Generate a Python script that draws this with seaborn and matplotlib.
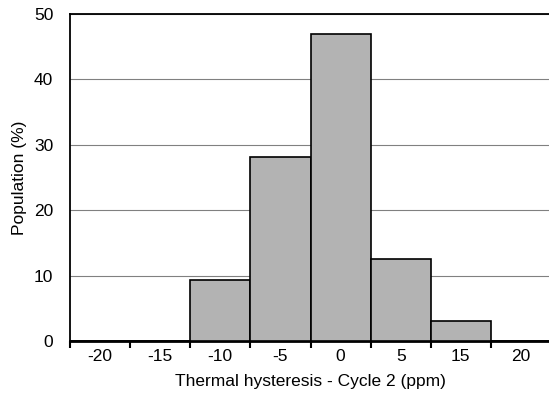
import matplotlib
matplotlib.use("Agg")
from matplotlib import pyplot as plt
from matplotlib.ticker import FixedLocator
import pandas as pd
import seaborn as sns

# histogram bins (ppm) and share of population (%)
bins = ["-20", "-15", "-10", "-5", "0", "5", "15", "20"]
population = [0, 0, 9.375, 28.125, 46.875, 12.5, 3.125, 0]
y_ticks = [0, 10, 20, 30, 40, 50]

df = pd.DataFrame({"bin": bins, "population": population})

sns.set_theme(style="white")
plt.rcParams["font.family"] = ["Liberation Sans", "DejaVu Sans"]
fs = 12.5

fig = plt.figure(figsize=(5.49, 3.96), dpi=100)
ax = fig.add_axes([70 / 549, 1 - 341 / 396, 481 / 549, 327 / 396])

sns.barplot(data=df, x="bin", y="population", order=bins, width=1.0,
            color="#b3b3b3", saturation=1, edgecolor="black", linewidth=1.2,
            ax=ax, zorder=3)

ax.set_xlim(-0.5, len(bins) - 0.5)
ax.set_ylim(0, 50)
ax.set_yticks(y_ticks)
ax.yaxis.grid(True, color="#808080", linewidth=0.8, zorder=0)
ax.set_axisbelow(True)

# category boundaries as tick marks, labels centered in between
ax.xaxis.set_minor_locator(FixedLocator([i - 0.5 for i in range(len(bins) + 1)]))
ax.tick_params(axis="x", which="major", length=0, pad=6, labelsize=fs,
               colors="black")
ax.tick_params(axis="x", which="minor", bottom=True, length=5, width=1.5,
               direction="out", color="black")
ax.tick_params(axis="y", length=0, pad=12, labelsize=fs, colors="black")

for side in ["left", "top"]:
    ax.spines[side].set_color("black")
    ax.spines[side].set_linewidth(1.3)
ax.spines["bottom"].set_color("black")
ax.spines["bottom"].set_linewidth(2.0)
ax.spines["right"].set_visible(False)

ax.set_xlabel("Thermal hysteresis - Cycle 2 (ppm)", fontsize=fs,
              color="black", labelpad=7)
ax.set_ylabel("Population (%)", fontsize=fs, color="black", labelpad=5)

fig.savefig("out.png", dpi=100)
